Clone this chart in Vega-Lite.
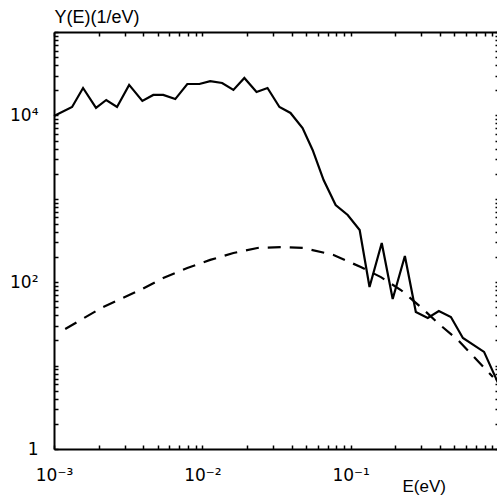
{
  "$schema": "https://vega.github.io/schema/vega-lite/v6.json",
  "autosize": "none",
  "width": 445,
  "height": 417,
  "padding": {"left": 54, "top": 32, "right": 0, "bottom": 48},
  "background": "white",
  "config": {
    "view": {"stroke": null},
    "font": "Liberation Sans",
    "axis": {
      "grid": false,
      "domainColor": "black",
      "domainWidth": 2,
      "tickColor": "black",
      "tickWidth": 1.5,
      "tickSize": -4,
      "labelColor": "black",
      "labelFont": "DejaVu Sans",
      "labelFontSize": 17,
      "titleFont": "Liberation Sans",
      "titleFontSize": 17,
      "titleFontWeight": "normal",
      "titleColor": "black",
      "labelOverlap": false,
      "labelFlush": false
    }
  },
  "datasets": {
    "solid": [
      {"E": 0.001, "Y": 9840},
      {"E": 0.001324, "Y": 12600},
      {"E": 0.00157, "Y": 21300},
      {"E": 0.00192, "Y": 12300},
      {"E": 0.00225, "Y": 15300},
      {"E": 0.00266, "Y": 12600},
      {"E": 0.00321, "Y": 23200},
      {"E": 0.00394, "Y": 14900},
      {"E": 0.00467, "Y": 17600},
      {"E": 0.00545, "Y": 17600},
      {"E": 0.00657, "Y": 15700},
      {"E": 0.00792, "Y": 23800},
      {"E": 0.00955, "Y": 23800},
      {"E": 0.0113, "Y": 25800},
      {"E": 0.0136, "Y": 24500},
      {"E": 0.0162, "Y": 20200},
      {"E": 0.0192, "Y": 28100},
      {"E": 0.0232, "Y": 19100},
      {"E": 0.0275, "Y": 21300},
      {"E": 0.0331, "Y": 12600},
      {"E": 0.0393, "Y": 10700},
      {"E": 0.0474, "Y": 7060},
      {"E": 0.0554, "Y": 3850},
      {"E": 0.0657, "Y": 1680},
      {"E": 0.0792, "Y": 843},
      {"E": 0.0955, "Y": 640},
      {"E": 0.115, "Y": 423},
      {"E": 0.134, "Y": 87.6},
      {"E": 0.162, "Y": 295},
      {"E": 0.192, "Y": 62.9},
      {"E": 0.232, "Y": 206},
      {"E": 0.275, "Y": 43.9},
      {"E": 0.331, "Y": 37.2},
      {"E": 0.393, "Y": 45.2},
      {"E": 0.474, "Y": 38.3},
      {"E": 0.571, "Y": 21.4},
      {"E": 0.793, "Y": 14.6},
      {"E": 0.985, "Y": 6.2}
    ],
    "dashed": [
      {"E": 0.00119, "Y": 27.5},
      {"E": 0.00214, "Y": 50.4},
      {"E": 0.00381, "Y": 80.6},
      {"E": 0.00545, "Y": 112},
      {"E": 0.00792, "Y": 148},
      {"E": 0.0113, "Y": 185},
      {"E": 0.0162, "Y": 224},
      {"E": 0.0235, "Y": 257},
      {"E": 0.0352, "Y": 264},
      {"E": 0.0481, "Y": 257},
      {"E": 0.0767, "Y": 212},
      {"E": 0.117, "Y": 152},
      {"E": 0.16, "Y": 115},
      {"E": 0.218, "Y": 80.6},
      {"E": 0.297, "Y": 50.4},
      {"E": 0.387, "Y": 32.4},
      {"E": 0.528, "Y": 20.3},
      {"E": 0.678, "Y": 12.7},
      {"E": 0.91, "Y": 7.3}
    ]
  },
  "layer": [
    {
      "data": {"name": "solid"},
      "mark": {"type": "line", "color": "black", "strokeWidth": 2.2},
      "encoding": {
        "x": {
          "field": "E", "type": "quantitative",
          "scale": {"type": "log", "domain": [0.001, 1], "nice": false},
          "axis": {
            "orient": "bottom",
            "title": "E(eV)",
            "titleAlign": "left",
            "titleAnchor": "start",
            "titleX": 348,
            "titleY": 46,
            "titleBaseline": "bottom",
            "values": [0.001,0.002,0.003,0.004,0.005,0.006,0.007,0.008,0.009,0.01,0.02,0.03,0.04,0.05,0.06,0.07,0.08,0.09,0.1,0.2,0.3,0.4,0.5,0.6,0.7,0.8,0.9,1],
            "labelExpr": "datum.value == 0.001 ? '10⁻³' : datum.value == 0.01 ? '10⁻²' : datum.value == 0.1 ? '10⁻¹' : ''",
            "labelPadding": 22
          }
        },
        "y": {
          "field": "Y", "type": "quantitative",
          "scale": {"type": "log", "domain": [1, 100000], "nice": false},
          "axis": {
            "orient": "left",
            "title": "Y(E)(1/eV)",
            "titleAngle": 0,
            "titleAlign": "left",
            "titleAnchor": "end",
            "titleX": 0,
            "titleY": -6,
            "titleBaseline": "bottom",
            "titleFontSize": 18,
            "values": [1,2,3,4,5,6,7,8,9,10,20,30,40,50,60,70,80,90,100,200,300,400,500,600,700,800,900,1000,2000,3000,4000,5000,6000,7000,8000,9000,10000,20000,30000,40000,50000,60000,70000,80000,90000,100000],
            "labelExpr": "datum.value == 1 ? '1' : datum.value == 100 ? '10²' : datum.value == 10000 ? '10⁴' : ''",
            "labelPadding": 20
          }
        }
      }
    },
    {
      "data": {"name": "dashed"},
      "mark": {"type": "line", "color": "black", "strokeWidth": 2.2, "strokeDash": [13, 9]},
      "encoding": {
        "x": {
          "field": "E", "type": "quantitative",
          "scale": {"type": "log", "domain": [0.001, 1], "nice": false},
          "axis": {
            "orient": "top",
            "title": null,
            "labels": false,
            "values": [0.001,0.002,0.003,0.004,0.005,0.006,0.007,0.008,0.009,0.01,0.02,0.03,0.04,0.05,0.06,0.07,0.08,0.09,0.1,0.2,0.3,0.4,0.5,0.6,0.7,0.8,0.9,1]
          }
        },
        "y": {
          "field": "Y", "type": "quantitative",
          "scale": {"type": "log", "domain": [1, 100000], "nice": false},
          "axis": {
            "orient": "right",
            "title": null,
            "labels": false,
            "values": [1,2,3,4,5,6,7,8,9,10,20,30,40,50,60,70,80,90,100,200,300,400,500,600,700,800,900,1000,2000,3000,4000,5000,6000,7000,8000,9000,10000,20000,30000,40000,50000,60000,70000,80000,90000,100000]
          }
        }
      }
    }
  ],
  "resolve": {"axis": {"x": "independent", "y": "independent"}}
}
